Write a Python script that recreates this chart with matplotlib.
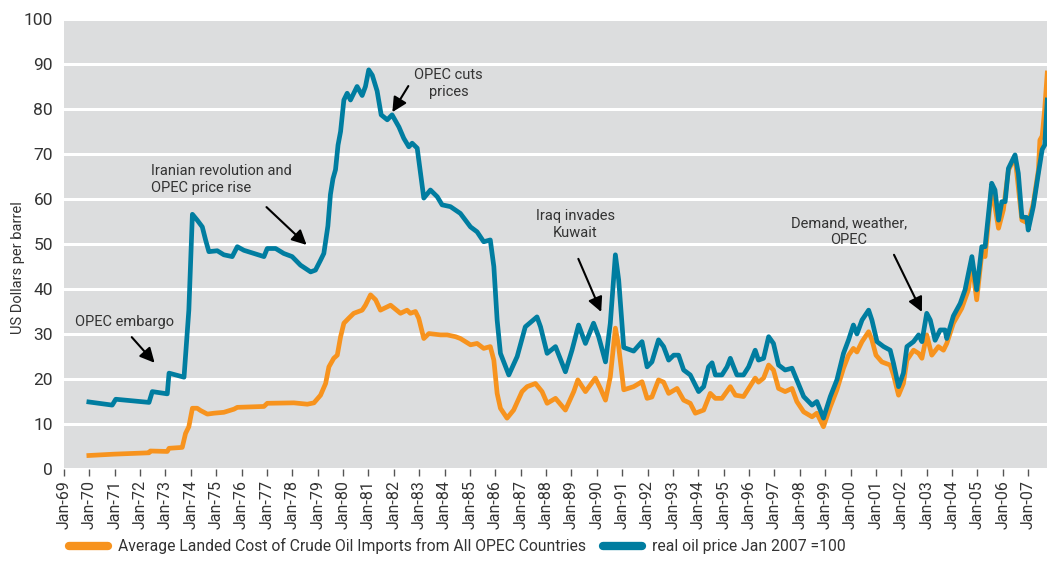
import matplotlib.pyplot as plt

# real oil price (Jan 2007 = 100) as (decimal year, value)
real_price = [
    (1969.98, 14.9), (1970.9, 14.2), (1971.04, 15.5), (1972.35, 14.8), (1972.48, 17.2),
    (1973.07, 16.7), (1973.14, 21.3), (1973.73, 20.4), (1973.92, 35.3), (1974.06, 56.6),
    (1974.25, 55.3), (1974.45, 53.8), (1974.58, 50.9), (1974.71, 48.3), (1975.04, 48.5),
    (1975.3, 47.6), (1975.63, 47.2), (1975.83, 49.4), (1976.09, 48.6), (1976.48, 47.9),
    (1976.88, 47.2), (1977.01, 49.0), (1977.34, 49.0), (1977.66, 47.9), (1977.99, 47.2),
    (1978.32, 45.3), (1978.72, 43.8), (1978.91, 44.2), (1979.11, 46.4), (1979.24, 47.9),
    (1979.4, 54.0), (1979.5, 61.0), (1979.6, 64.5), (1979.7, 66.5), (1979.8, 72.0),
    (1979.9, 75.0), (1980.03, 82.0), (1980.16, 83.5), (1980.29, 82.0), (1980.55, 85.0),
    (1980.75, 83.0), (1980.88, 85.0), (1981.01, 88.7), (1981.15, 87.5), (1981.34, 84.0),
    (1981.5, 78.7), (1981.74, 77.6), (1981.93, 78.7), (1982.2, 76.0), (1982.39, 73.5),
    (1982.59, 71.6), (1982.72, 72.4), (1982.92, 71.3), (1983.05, 65.7), (1983.18, 60.2),
    (1983.44, 62.0), (1983.71, 60.5), (1983.9, 58.7), (1984.23, 58.3), (1984.62, 56.8),
    (1985.02, 53.8), (1985.28, 52.7), (1985.54, 50.5), (1985.8, 50.9), (1985.94, 45.0),
    (1986.07, 33.1), (1986.2, 25.7), (1986.53, 20.9), (1986.86, 25.0), (1987.18, 31.6),
    (1987.64, 33.8), (1987.78, 31.6), (1988.04, 25.7), (1988.37, 27.2), (1988.76, 21.6),
    (1989.02, 26.4), (1989.28, 32.0), (1989.55, 27.9), (1989.87, 32.4), (1990.07, 29.4),
    (1990.34, 23.8), (1990.53, 32.4), (1990.73, 47.6), (1990.86, 42.0), (1991.06, 27.0),
    (1991.45, 26.2), (1991.78, 28.3), (1991.98, 22.7), (1992.17, 23.8), (1992.43, 28.7),
    (1992.63, 27.2), (1992.83, 24.2), (1993.03, 25.3), (1993.22, 25.3), (1993.42, 22.0),
    (1993.68, 20.9), (1994.01, 17.2), (1994.21, 18.3), (1994.4, 22.7), (1994.54, 23.6),
    (1994.67, 20.9), (1994.93, 20.9), (1995.13, 22.7), (1995.26, 24.6), (1995.39, 22.7),
    (1995.52, 20.9), (1995.78, 20.9), (1995.98, 22.7), (1996.24, 26.4), (1996.37, 24.2),
    (1996.57, 24.6), (1996.77, 29.4), (1996.96, 27.9), (1997.16, 23.1), (1997.42, 22.0),
    (1997.69, 22.4), (1997.88, 19.8), (1998.15, 16.1), (1998.48, 14.2), (1998.67, 15.0),
    (1998.93, 11.3), (1999.2, 16.1), (1999.46, 19.8), (1999.72, 25.7), (1999.92, 28.7),
    (2000.11, 32.0), (2000.25, 30.0), (2000.45, 33.1), (2000.71, 35.3), (2000.84, 33.1),
    (2001.04, 28.3), (2001.3, 27.2), (2001.56, 26.4), (2001.69, 23.5), (2001.89, 18.3),
    (2002.08, 21.3), (2002.22, 27.2), (2002.48, 28.3), (2002.68, 29.8), (2002.81, 28.3),
    (2003.0, 34.6), (2003.14, 33.1), (2003.33, 28.6), (2003.53, 30.9), (2003.72, 30.9),
    (2003.79, 29.0), (2004.05, 34.0), (2004.32, 36.8), (2004.51, 39.8), (2004.78, 47.2),
    (2004.97, 39.8), (2005.17, 49.4), (2005.3, 49.4), (2005.56, 63.5), (2005.69, 62.0),
    (2005.83, 55.3), (2005.96, 59.4), (2006.09, 59.4), (2006.22, 66.8), (2006.48, 69.8),
    (2006.61, 65.7), (2006.75, 56.0), (2006.94, 55.9), (2007.0, 53.1), (2007.2, 58.3),
    (2007.4, 65.7), (2007.55, 71.0), (2007.65, 72.0), (2007.75, 82.0),
]

# average landed cost of crude oil imports from OPEC
landed_cost = [
    (1969.98, 3.0), (1970.97, 3.3), (1972.35, 3.6), (1972.4, 4.0), (1973.07, 3.9),
    (1973.14, 4.6), (1973.66, 4.8), (1973.79, 7.9), (1973.92, 9.4), (1974.06, 13.5),
    (1974.25, 13.5), (1974.38, 13.0), (1974.65, 12.2), (1974.91, 12.4), (1975.3, 12.6),
    (1975.7, 13.3), (1975.83, 13.7), (1976.88, 13.9), (1977.01, 14.6), (1978.06, 14.7),
    (1978.59, 14.4), (1978.85, 14.7), (1979.11, 16.4), (1979.31, 19.0), (1979.44, 22.7),
    (1979.63, 24.6), (1979.77, 25.3), (1979.9, 29.4), (1980.03, 32.4), (1980.22, 33.5),
    (1980.42, 34.6), (1980.75, 35.3), (1980.88, 36.4), (1981.08, 38.7), (1981.28, 37.6),
    (1981.47, 35.3), (1981.87, 36.4), (1982.26, 34.6), (1982.52, 35.3), (1982.65, 34.6),
    (1982.85, 35.0), (1982.98, 33.5), (1983.18, 29.0), (1983.38, 30.1), (1983.84, 29.8),
    (1984.1, 29.8), (1984.43, 29.4), (1984.62, 29.0), (1985.02, 27.6), (1985.28, 27.9),
    (1985.54, 26.8), (1985.8, 27.2), (1985.94, 24.2), (1986.07, 16.8), (1986.2, 13.5),
    (1986.46, 11.3), (1986.72, 13.1), (1987.05, 17.2), (1987.25, 18.3), (1987.58, 19.0),
    (1987.84, 17.2), (1988.04, 14.6), (1988.37, 15.7), (1988.76, 13.1), (1989.09, 17.2),
    (1989.25, 19.8), (1989.55, 17.2), (1989.94, 20.2), (1990.14, 17.9), (1990.34, 15.3),
    (1990.53, 20.5), (1990.73, 31.3), (1990.86, 27.2), (1991.06, 17.6), (1991.45, 18.3),
    (1991.78, 19.4), (1991.98, 15.7), (1992.17, 16.0), (1992.43, 19.8), (1992.63, 19.3),
    (1992.83, 16.8), (1993.16, 17.9), (1993.42, 15.3), (1993.68, 14.6), (1993.88, 12.4),
    (1994.21, 13.1), (1994.47, 16.8), (1994.67, 15.7), (1994.93, 15.7), (1995.26, 18.3),
    (1995.46, 16.4), (1995.78, 16.1), (1996.24, 20.2), (1996.37, 19.3), (1996.57, 20.2),
    (1996.77, 23.1), (1996.96, 22.0), (1997.16, 17.9), (1997.42, 17.2), (1997.69, 17.9),
    (1997.88, 15.0), (1998.15, 12.7), (1998.48, 11.6), (1998.67, 12.4), (1998.93, 9.4),
    (1999.2, 13.8), (1999.46, 17.6), (1999.72, 22.4), (1999.92, 25.3), (2000.11, 26.8),
    (2000.25, 26.0), (2000.45, 28.3), (2000.71, 30.5), (2000.84, 28.7), (2001.0, 25.3),
    (2001.23, 23.8), (2001.56, 23.1), (2001.69, 20.9), (2001.89, 16.4), (2002.08, 19.0),
    (2002.22, 24.2), (2002.48, 26.4), (2002.68, 25.7), (2002.81, 24.6), (2003.0, 29.8),
    (2003.2, 25.3), (2003.46, 27.2), (2003.66, 26.4), (2003.79, 27.9), (2004.05, 32.4),
    (2004.38, 35.7), (2004.64, 39.8), (2004.78, 45.8), (2004.97, 37.6), (2005.17, 47.9),
    (2005.3, 47.2), (2005.56, 62.7), (2005.83, 53.5), (2006.02, 57.6), (2006.22, 66.4),
    (2006.48, 69.4), (2006.75, 55.3), (2007.0, 54.6), (2007.2, 59.0), (2007.4, 66.4),
    (2007.46, 73.1), (2007.55, 74.0), (2007.65, 80.0), (2007.75, 88.0),
]

years = list(range(1969, 2008))
year_labels = ["Jan-%02d" % (y % 100) for y in years]
y_ticks = list(range(0, 101, 10))

# event annotations: text, text position, arrow tail, arrow head
events = [
    ("OPEC embargo", (1971.39, 32.7), (1971.67, 29.3), (1972.57, 23.6)),
    ("Iranian revolution and\nOPEC price rise", (1972.42, 64.3), (1976.98, 58.2), (1978.56, 49.8)),
    ("OPEC cuts\nprices", (1984.15, 85.6), (1982.57, 85.1), (1981.94, 79.3)),
    ("Iraq invades\nKuwait", (1989.15, 54.4), (1989.27, 46.7), (1990.17, 34.9)),
    ("Demand, weather,\nOPEC", (1999.94, 52.7), (2001.71, 47.6), (2002.81, 34.9)),
]

orange = "#F7931E"
blue = "#007DA0"
txt = "#333333"

plt.rcParams['font.family'] = ['Roboto', 'DejaVu Sans']

fig = plt.figure(figsize=(10.47, 5.61), dpi=100)
ax = fig.add_axes([64 / 1047, 92 / 561, (1047 - 64) / 1047, 450 / 561])
ax.set_facecolor("#DCDDDE")

ox, oy = zip(*landed_cost)
bx, by = zip(*real_price)
ax.plot(ox, oy, color=orange, lw=3.4, solid_joinstyle='round',
        label="Average Landed Cost of Crude Oil Imports from All OPEC Countries")
ax.plot(bx, by, color=blue, lw=3.4, solid_joinstyle='round',
        label="real oil price Jan 2007 =100")

ax.set_xlim(1969, 2007.74)
ax.set_ylim(0, 100)
ax.set_yticks(y_ticks)
ax.set_xticks(years)
ax.set_xticklabels(year_labels, rotation=90)
ax.grid(axis='y', color='white', lw=2.2)
ax.set_axisbelow(True)
for s in ax.spines.values():
    s.set_visible(False)
ax.tick_params(axis='y', length=0, labelsize=12.5, labelcolor=txt, pad=8)
ax.tick_params(axis='x', length=5, width=1, color='#555555', labelsize=11.5,
               labelcolor=txt, pad=3)

fig.text(18 / 1047, 1 - 268 / 561, "US Dollars per barrel", rotation=90,
         ha='center', va='center', fontsize=10.5, color=txt)

for label, pos, tail, head in events:
    ha = 'left' if label.startswith("Iranian") else 'center'
    ax.text(pos[0], pos[1], label, ha=ha, va='center', fontsize=10.5,
            color=txt, linespacing=1.3)
    ax.annotate("", xy=head, xytext=tail,
                arrowprops=dict(arrowstyle='-|>', color='black', lw=1.5,
                                mutation_scale=22, shrinkA=0, shrinkB=0))

leg = fig.legend(loc='center left', bbox_to_anchor=(55 / 1047, 15 / 561), ncol=2,
                 frameon=False, fontsize=11.3, handlelength=2.5, handletextpad=0.6,
                 columnspacing=1.1)
for h in leg.get_lines():
    h.set_linewidth(6)
    h.set_solid_capstyle('round')
for t in leg.get_texts():
    t.set_color(txt)

fig.savefig("out.png", dpi=100)
